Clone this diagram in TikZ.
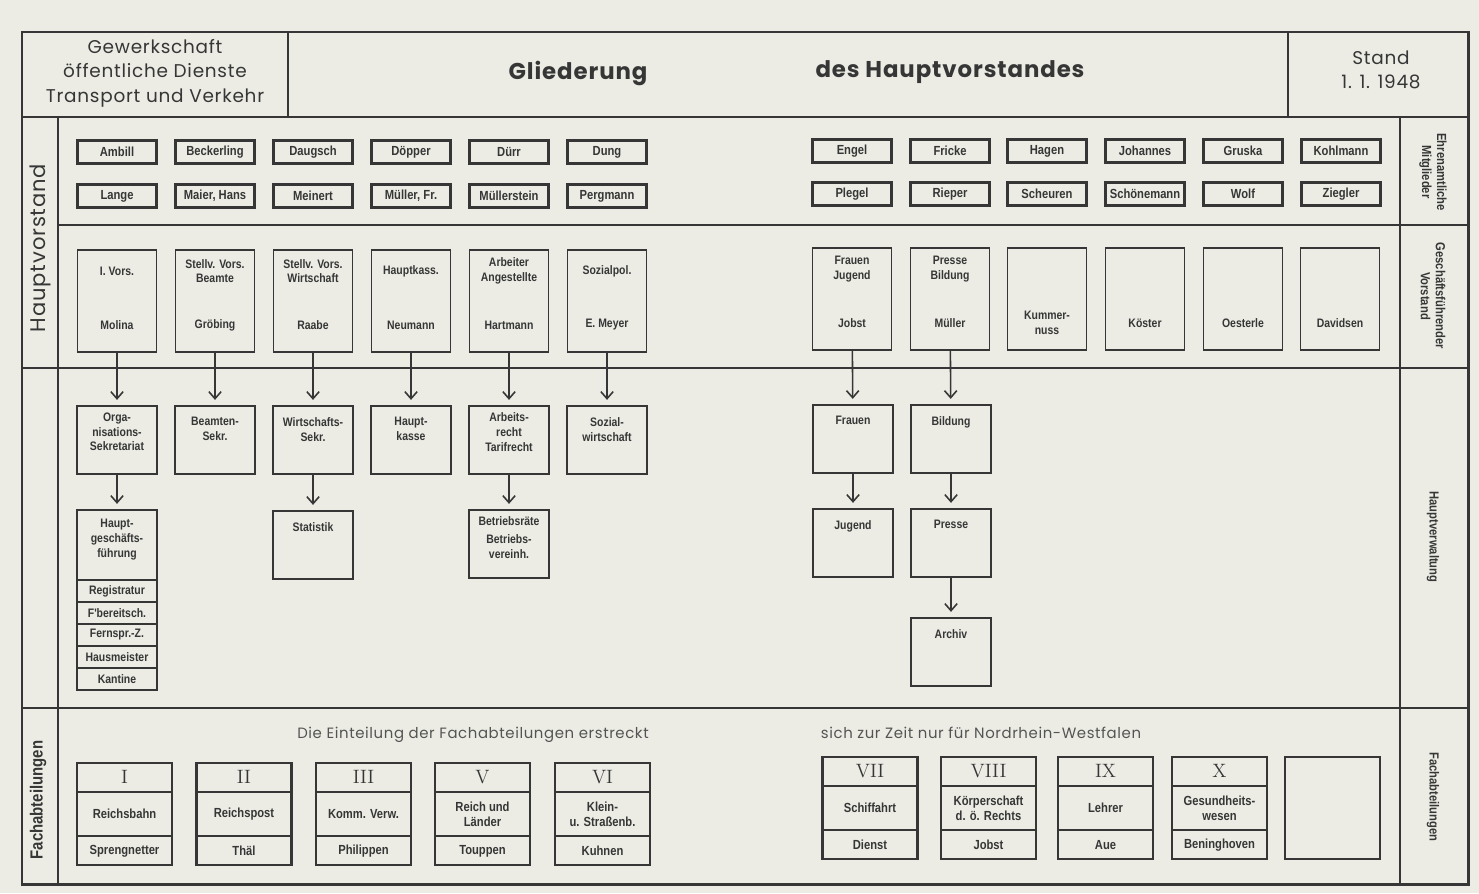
\documentclass[tikz,border=0pt]{standalone}
\usepackage{fontspec}
\usepackage{tikz}
\usetikzlibrary{arrows.meta}

\newfontfamily\boxfont{Liberation Sans}[FakeStretch=0.85]
\newfontfamily\headfont{Poppins}[LetterSpace=4]

\definecolor{paper}{HTML}{ECECE5}
\definecolor{ink}{HTML}{363636}

\tikzset{
  frame/.style={draw=ink, line width=1.7pt},
  divider/.style={draw=ink, line width=1.1pt},
  boxtext/.style={font=\boxfont\bfseries\fontsize{7}{8.5}\selectfont, text=ink, align=center, inner sep=0pt},
  namebox/.style={draw=ink, line width=1.2pt, minimum width=1.58cm, minimum height=0.46cm, inner sep=0pt,
    font=\boxfont\bfseries\fontsize{7.5}{8}\selectfont, text=ink},
  postbox/.style={draw=ink, line width=1pt, minimum width=1.58cm, minimum height=2.04cm, inner sep=0pt},
  deptbox/.style={draw=ink, line width=1pt, minimum width=1.6cm, minimum height=1.36cm, inner sep=0pt},
  cellbox/.style={draw=ink, line width=0.9pt, minimum width=1.6cm, minimum height=0.44cm, inner sep=0pt, boxtext},
  fachbox/.style={draw=ink, line width=1.2pt, minimum width=1.9cm, minimum height=2.04cm, inner sep=0pt,
    font=\boxfont\bfseries\fontsize{7.5}{8.5}\selectfont, text=ink, align=center,
    path picture={\draw[ink, line width=0.8pt]
      ([yshift=-0.58cm]path picture bounding box.north west) -- ([yshift=-0.58cm]path picture bounding box.north east)
      ([yshift=0.58cm]path picture bounding box.south west) -- ([yshift=0.58cm]path picture bounding box.south east);}},
  emptybox/.style={draw=ink, line width=1.2pt, minimum width=1.9cm, minimum height=2.04cm, inner sep=0pt},
  uptext/.style={boxtext, anchor=center, yshift=-0.44cm},
  lowtext/.style={boxtext, anchor=center, yshift=0.56cm},
  headline/.style={boxtext, anchor=north, yshift=-0.24cm},
  numtext/.style={font=\fontsize{11}{12}\selectfont, text=ink, inner sep=0pt, anchor=center, yshift=-0.3cm},
  fachname/.style={font=\boxfont\bfseries\fontsize{7.5}{8.5}\selectfont, text=ink, inner sep=0pt, anchor=center, yshift=0.3cm},
  headtext/.style={font=\headfont\fontsize{10.5}{13.9}\selectfont, text=ink, align=center},
  titletext/.style={font=\headfont\bfseries\fontsize{13}{15}\selectfont, text=ink},
  notetext/.style={font=\headfont\fontsize{8.5}{9}\selectfont, text=ink!85},
  sidetext/.style={font=\boxfont\bfseries\fontsize{7.5}{8.5}\selectfont, text=ink, align=center},
  arr/.style={draw=ink, line width=0.9pt, -{Straight Barb[length=4pt,width=7pt]}, shorten >=3pt},
}

\begin{document}
\begin{tikzpicture}[x=0.02cm, y=-0.02cm]
% paper and frame
\fill[paper] (0,0) rectangle (1479,893);
\draw[frame] (22,32) rectangle (1468,884);
\draw[divider] (22,117) -- (1468,117);
\draw[divider] (288,32) -- (288,117);
\draw[divider] (1288,32) -- (1288,117);
\draw[divider] (58,117) -- (58,884);
\draw[divider] (1400,117) -- (1400,884);
\draw[divider] (58,225) -- (1468,225);
\draw[divider] (22,368) -- (1468,368);
\draw[divider] (22,708) -- (1468,708);

% Header
\node[headtext] (union) at (155,73) {Gewerkschaft\\öffentliche Dienste\\Transport und Verkehr};
\node[titletext] (title) at (578,73) {Gliederung};
\node[titletext] (subtitle) at (950,72) {des Hauptvorstandes};
\node[headtext] (stand) at (1381,70) {Stand\\1. 1. 1948};

% Side labels
\node[headtext, rotate=90, font=\headfont\fontsize{12}{14}\selectfont] (hauptvorstand) at (40,248) {Hauptvorstand};
\node[sidetext, rotate=90, font=\boxfont\bfseries\fontsize{10}{11}\selectfont] (fachleft) at (38,800) {Fachabteilungen};
\node[sidetext, rotate=-90] (ehrenamt) at (1433,172) {Ehrenamtliche\\Mitglieder};
\node[sidetext, rotate=-90] (geschvorst) at (1433,296) {Geschäftsführender\\Vorstand};
\node[sidetext, rotate=-90] (hauptverw) at (1433,537) {Hauptverwaltung};
\node[sidetext, rotate=-90] (fachright) at (1433,797) {Fachabteilungen};

% Ehrenamtliche Mitglieder
\node[namebox] (ambill) at (117,152) {Ambill};
\node[namebox] (beckerling) at (215,152) {Beckerling};
\node[namebox] (daugsch) at (313,152) {Daugsch};
\node[namebox] (doepper) at (411,152) {Döpper};
\node[namebox] (duerr) at (509,152) {Dürr};
\node[namebox] (dung) at (607,152) {Dung};
\node[namebox] (lange) at (117,196) {Lange};
\node[namebox] (maier) at (215,196) {Maier, Hans};
\node[namebox] (meinert) at (313,196) {Meinert};
\node[namebox] (muellerfr) at (411,196) {Müller, Fr.};
\node[namebox] (muellerstein) at (509,196) {Müllerstein};
\node[namebox] (pergmann) at (607,196) {Pergmann};
\node[namebox] (engel) at (852,151) {Engel};
\node[namebox] (fricke) at (950,151) {Fricke};
\node[namebox] (hagen) at (1047,151) {Hagen};
\node[namebox] (johannes) at (1145,151) {Johannes};
\node[namebox] (gruska) at (1243,151) {Gruska};
\node[namebox] (kohlmann) at (1341,151) {Kohlmann};
\node[namebox] (plegel) at (852,194) {Plegel};
\node[namebox] (rieper) at (950,194) {Rieper};
\node[namebox] (scheuren) at (1047,194) {Scheuren};
\node[namebox] (schoenemann) at (1145,194) {Schönemann};
\node[namebox] (wolf) at (1243,194) {Wolf};
\node[namebox] (ziegler) at (1341,194) {Ziegler};

% Geschaeftsfuehrender Vorstand
\node[postbox, label={[uptext]north:{I. Vors.}}, label={[lowtext]south:Molina}] (vors) at (117,301) {};
\node[postbox, label={[uptext]north:{Stellv. Vors.\\Beamte}}, label={[lowtext]south:Gröbing}] (beamte) at (215,301) {};
\node[postbox, label={[uptext]north:{Stellv. Vors.\\Wirtschaft}}, label={[lowtext]south:Raabe}] (wirt) at (313,301) {};
\node[postbox, label={[uptext]north:{Hauptkass.}}, label={[lowtext]south:Neumann}] (kasse) at (411,301) {};
\node[postbox, label={[uptext]north:{Arbeiter\\Angestellte}}, label={[lowtext]south:Hartmann}] (arbeiter) at (509,301) {};
\node[postbox, label={[uptext]north:{Sozialpol.}}, label={[lowtext]south:{E. Meyer}}] (sozpol) at (607,301) {};
\node[postbox, label={[uptext]north:{Frauen\\Jugend}}, label={[lowtext]south:Jobst}] (frauenjugend) at (852,299) {};
\node[postbox, label={[uptext]north:{Presse\\Bildung}}, label={[lowtext]south:Müller}] (pressebildung) at (950,299) {};
\node[postbox, label={[lowtext]south:{Kummer-\\nuss}}] (kummernuss) at (1047,299) {};
\node[postbox, label={[lowtext]south:Köster}] (koester) at (1145,299) {};
\node[postbox, label={[lowtext]south:Oesterle}] (oesterle) at (1243,299) {};
\node[postbox, label={[lowtext]south:Davidsen}] (davidsen) at (1340,299) {};

% Hauptverwaltung
\node[deptbox, label={[headline, yshift=0.1cm]north:{Orga-\\nisations-\\Sekretariat}}] (orga) at (117,440) {};
\node[deptbox, label={[headline]north:{Beamten-\\Sekr.}}] (beamtensekr) at (215,440) {};
\node[deptbox, label={[headline]north:{Wirtschafts-\\Sekr.}}] (wirtsekr) at (313,440) {};
\node[deptbox, label={[headline]north:{Haupt-\\kasse}}] (hkasse) at (411,440) {};
\node[deptbox, label={[headline, yshift=0.1cm]north:{Arbeits-\\recht\\Tarifrecht}}] (arbrecht) at (509,440) {};
\node[deptbox, label={[headline]north:{Sozial-\\wirtschaft}}] (sozwirt) at (607,440) {};
\node[deptbox, label={[headline]north:Frauen}] (frauen) at (853,439) {};
\node[deptbox, label={[headline]north:Bildung}] (bildung) at (951,439) {};

\node[deptbox, minimum height=3.6cm, label={[headline, yshift=0.04cm]north:{Haupt-\\geschäfts-\\führung}}] (hgf) at (117,600) {};
\node[cellbox] (registratur) at (117,591) {Registratur};
\node[cellbox] (fbereitsch) at (117,613) {F'bereitsch.};
\node[cellbox] (fernspr) at (117,635) {Fernspr.-Z.};
\node[cellbox] (hausmeister) at (117,657) {Hausmeister};
\node[cellbox] (kantine) at (117,679) {Kantine};
\node[deptbox, label={[headline]north:Statistik}] (stat) at (313,545) {};
\node[deptbox, label={[headline, yshift=0.1cm]north:{Betriebsräte\\[2pt]Betriebs-\\vereinh.}}] (betr) at (509,544) {};
\node[deptbox, label={[headline]north:Jugend}] (jugend) at (853,543) {};
\node[deptbox, label={[headline]north:Presse}] (presse) at (951,543) {};
\node[deptbox, label={[headline]north:Archiv}] (archiv) at (951,652) {};

% Arrows
\draw[arr] (vors) -- (orga);
\draw[arr] (beamte) -- (beamtensekr);
\draw[arr] (wirt) -- (wirtsekr);
\draw[arr] (kasse) -- (hkasse);
\draw[arr] (arbeiter) -- (arbrecht);
\draw[arr] (sozpol) -- (sozwirt);
\draw[arr] (orga) -- (hgf);
\draw[arr] (wirtsekr) -- (stat);
\draw[arr] (arbrecht) -- (betr);
\draw[arr] (frauenjugend) -- (frauen);
\draw[arr] (pressebildung) -- (bildung);
\draw[arr] (frauen) -- (jugend);
\draw[arr] (bildung) -- (presse);
\draw[arr] (presse) -- (archiv);

% Fachabteilungen
\node[notetext] (note1) at (473,735) {Die Einteilung der Fachabteilungen erstreckt};
\node[notetext] (note2) at (981,733) {sich zur Zeit nur für Nordrhein-Westfalen};

\node[fachbox, label={[numtext]north:I}, label={[fachname]south:Sprengnetter}] (f1) at (124.5,814) {Reichsbahn};
\node[fachbox, label={[numtext]north:II}, label={[fachname]south:Thäl}] (f2) at (244,814) {Reichspost};
\node[fachbox, label={[numtext]north:III}, label={[fachname]south:Philippen}] (f3) at (363.5,814) {Komm. Verw.};
\node[fachbox, label={[numtext]north:V}, label={[fachname]south:Touppen}] (f4) at (482.5,814) {Reich und\\Länder};
\node[fachbox, label={[numtext]north:VI}, label={[fachname]south:Kuhnen}] (f5) at (602.5,814) {Klein-\\u. Straßenb.};
\node[fachbox, label={[numtext]north:VII}, label={[fachname]south:Dienst}] (f6) at (870,808) {Schiffahrt};
\node[fachbox, label={[numtext]north:VIII}, label={[fachname]south:Jobst}] (f7) at (988.5,808) {Körperschaft\\d. ö. Rechts};
\node[fachbox, label={[numtext]north:IX}, label={[fachname]south:Aue}] (f8) at (1105.5,808) {Lehrer};
\node[fachbox, label={[numtext]north:X}, label={[fachname]south:Beninghoven}] (f9) at (1219.5,808) {Gesundheits-\\wesen};
\node[emptybox] (f10) at (1332.5,808) {};
\end{tikzpicture}
\end{document}
